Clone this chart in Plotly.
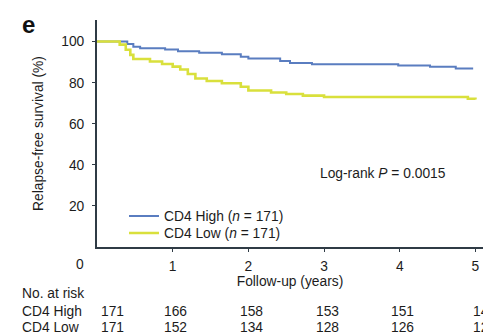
import plotly.graph_objects as go

# Kaplan-Meier estimates
high_t = [0, 0.40, 0.48, 0.57, 0.90, 1.07, 1.35, 1.65, 1.90, 2.00, 2.42, 2.55, 2.84, 3.98, 4.40, 4.74, 4.97]
high_s = [100, 98.8, 97.5, 96.8, 96.2, 95.3, 94.6, 93.8, 92.6, 91.8, 90.6, 89.6, 88.9, 88.3, 87.8, 86.9, 86.9]
low_t = [0, 0.30, 0.38, 0.44, 0.48, 0.70, 0.86, 1.00, 1.10, 1.20, 1.30, 1.45, 1.65, 1.90, 2.00, 2.30, 2.50, 2.72, 3.00, 4.90, 5.00]
low_s = [100, 98.5, 96.0, 93.5, 91.5, 90.3, 89.1, 87.8, 86.4, 84.2, 82.0, 80.8, 79.7, 78.0, 76.2, 75.2, 74.5, 73.7, 73.0, 72.2, 71.8]

risk_times = [0, 1, 2, 3, 4, 5]
risk_high = [171, 166, 158, 153, 151, 145]
risk_low = [171, 152, 134, 128, 126, 122]

x_ticks = [1, 2, 3, 4, 5]
y_ticks = [20, 40, 60, 80, 100]

TXT = "#1c1c1c"
FONT = "Arial, Liberation Sans, sans-serif"
FS = 13.8
PW, PH = 386, 227  # plot area size in px
XMAX = 5.1


def px_x(dx):
    return dx / PW


def px_y(dy):
    return dy / PH


fig = go.Figure()
fig.add_trace(go.Scatter(x=high_t, y=high_s, mode="lines", line=dict(shape="hv", color="#5a7dc0", width=2),
                         name="CD4 High (<i>n</i> = 171)", legend="legend"))
fig.add_trace(go.Scatter(x=low_t, y=low_s, mode="lines", line=dict(shape="hv", color="#d9e03c", width=2.6),
                         name="CD4 Low (<i>n</i> = 171)", legend="legend2"))

ann = []
ann.append(dict(text="<b>e</b>", x=px_x(28 - 97), y=1 + px_y(20 - 25), xref="paper", yref="paper",
                xanchor="center", yanchor="middle", showarrow=False, font=dict(size=24, color="#111")))
ann.append(dict(text="Log-rank <i>P</i> = 0.0015", x=3.78, y=36, xref="x", yref="y", showarrow=False,
                font=dict(size=FS, color=TXT)))
# "0" origin label
ann.append(dict(text="0", x=0, y=-px_y(264 - 247), xref="paper", yref="paper", xanchor="right", yanchor="middle",
                xshift=-11, showarrow=False, font=dict(size=FS, color=TXT)))
# number at risk table
ann.append(dict(text="No. at risk", x=px_x(20 - 97), y=-px_y(293 - 247), xref="paper", yref="paper",
                xanchor="left", yanchor="middle", showarrow=False, font=dict(size=FS, color=TXT)))
offsets = [0.2, 0.04, 0.04, 0.05, 0.03, 0.12]
for label, vals, ypx in [("CD4 High", risk_high, 311), ("CD4 Low", risk_low, 327)]:
    ann.append(dict(text=label, x=px_x(20 - 97), xref="paper", y=-px_y(ypx - 247), yref="paper",
                    xanchor="left", yanchor="middle", showarrow=False, font=dict(size=FS, color=TXT)))
    for t, v, o in zip(risk_times, vals, offsets):
        ann.append(dict(text=str(v), x=(t + o) / XMAX, xref="paper", y=-px_y(ypx - 247), yref="paper",
                        xanchor="center", yanchor="middle", showarrow=False, font=dict(size=FS, color=TXT)))

leg = dict(xanchor="left", yanchor="middle", bgcolor="rgba(0,0,0,0)", font=dict(size=FS, color=TXT),
           borderwidth=0)
fig.update_layout(
    width=483, height=334,
    margin=dict(l=97, r=0, t=20, b=87, autoexpand=False),
    paper_bgcolor="white", plot_bgcolor="white",
    font=dict(family=FONT, size=FS, color=TXT),
    showlegend=True,
    legend=dict(leg, x=px_x(124 - 97), y=px_y(247 - 216)),
    legend2=dict(leg, x=px_x(124 - 97), y=px_y(247 - 233)),
    annotations=ann,
    xaxis=dict(range=[0, XMAX], tickvals=x_ticks, ticktext=[str(v) for v in x_ticks],
               showline=True, linecolor="#2f3b45", linewidth=2, ticks="outside", ticklen=3,
               tickcolor="#2f3b45", showgrid=False, zeroline=False, ticklabelstandoff=2,
               title=dict(text="Follow-up (years)", standoff=4, font=dict(size=FS, color=TXT))),
    yaxis=dict(range=[0, 110.5], tickvals=y_ticks, ticktext=[str(v) for v in y_ticks],
               showline=True, linecolor="#2f3b45", linewidth=2, ticks="outside", ticklen=3,
               tickcolor="#2f3b45", showgrid=False, zeroline=False, ticklabelstandoff=5,
               title=dict(text="Relapse-free survival (%)", standoff=14, font=dict(size=FS, color=TXT))),
)

fig.write_html("out.html", config={"displayModeBar": False},
               post_script="document.body.style.margin='0';")
